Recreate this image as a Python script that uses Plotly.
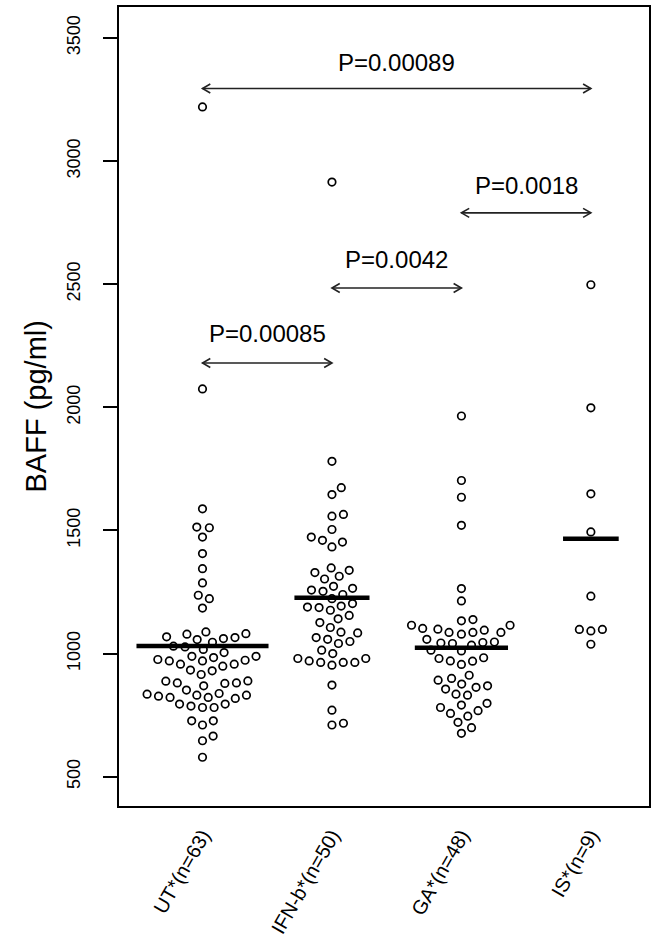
import numpy as np
import plotly.graph_objects as go

# ---------------- data ----------------
categories = ["UT*(n=63)", "IFN-b*(n=50)", "GA*(n=48)", "IS*(n=9)"]

ut_values = [3220, 2075, 1588, 1514, 1511, 1473, 1406, 1345, 1287, 1237, 1223, 1185,
             1088, 1068, 1046, 1079, 1057, 1065, 1061, 1081, 1030, 1004, 1017, 1027,
             989, 984, 970, 957, 949, 973, 933, 957, 970, 976, 989, 930,
             888, 881, 881, 869, 879, 889, 915,
             838, 822, 795, 835, 787, 827, 781, 822, 781, 831, 795, 818, 831, 852,
             727, 710, 727, 646, 665, 579]

ifn_values = [2915, 1781, 1646, 1674, 1558, 1565, 1504, 1460, 1433, 1453, 1473,
              1338, 1314, 1348, 1303, 1329, 1265, 1240, 1273, 1253, 1258,
              1223, 1203, 1187, 1176, 1193, 1189,
              1141, 1155, 1126, 1106, 1087, 1084, 1065, 1049, 1058, 1041, 1014, 1000,
              980, 964, 964, 953, 964, 970, 980,
              872, 770, 710, 717]

ga_values = [1965, 1703, 1635, 1521, 1264, 1214,
             1138, 1133, 1115,
             1102, 1095, 1086, 1086, 1079, 1086, 1099, 1115,
             1058, 1047, 1041, 1034, 1043, 1045,
             1011, 1014,
             980, 969, 956, 970, 983,
             912, 899, 892,
             876, 869, 863, 856,
             835, 831,
             791, 798, 781, 768, 757, 746,
             721, 699, 676]

is_values = [2498, 1998, 1649, 1494, 1233, 1098, 1092, 1098, 1038]

y_tick_values = [500, 1000, 1500, 2000, 2500, 3000, 3500]

cmp_from = [1, 2, 3, 1]
cmp_to = [2, 3, 4, 4]
cmp_arrow_y = [2180, 2485, 2790, 3295]
cmp_label_y = [2300, 2600, 2900, 3400]
cmp_labels = ["P=0.00085", "P=0.0042", "P=0.0018", "P=0.00089"]

groups = [ut_values, ifn_values, ga_values, is_values]

# ---------------- layout constants ----------------
W, H = 660, 941
ML, MR, MT, MB = 119, 11, 7, 135
XR = [0.355, 4.449]
YR = [381, 3626]
px_per_x = (W - ML - MR) / (XR[1] - XR[0])
px_per_y = (H - MT - MB) / (YR[1] - YR[0])
SPACING_PX = 11.6
mean_bar_half = [0.51, 0.29, 0.36, 0.215]
FONT = "Arial, Liberation Sans, sans-serif"


def swarm_offsets(values):
    """R beeswarm 'swarm' method, priority ascending; returns x offsets in px."""
    v = np.asarray(values, float)
    ys = v * px_per_y / SPACING_PX
    order = np.argsort(ys, kind="stable")
    off = np.zeros(len(v))
    placed = []
    for i in order:
        yi = ys[i]
        pre = [j for j in placed if abs(yi - ys[j]) < 1]
        if pre:
            pxs = off[pre]
            pys = ys[pre]
            dd = np.sqrt(1 - (yi - pys) ** 2)
            cands = np.concatenate([[0.0], pxs + dd, pxs - dd])
            bad = np.array([np.any((yi - pys) ** 2 + (c - pxs) ** 2 < 0.999) for c in cands])
            cands = np.where(bad, np.inf, cands)
            off[i] = cands[np.argmin(np.abs(cands))]
        else:
            off[i] = 0.0
        placed.append(i)
    return off * SPACING_PX


fig = go.Figure()
shapes = []
for gi, vals in enumerate(groups):
    pos = gi + 1
    offs = swarm_offsets(vals) / px_per_x
    fig.add_trace(go.Scatter(
        x=pos + offs, y=vals, mode="markers",
        marker=dict(symbol="circle-open", size=7.5, color="black",
                    line=dict(width=1.7, color="black")),
        showlegend=False, hoverinfo="y"))
    m = float(np.mean(vals))
    shapes.append(dict(type="line", xref="x", yref="y",
                       x0=pos - mean_bar_half[gi], x1=pos + mean_bar_half[gi],
                       y0=m, y1=m, line=dict(color="black", width=4.5)))

# arrows
head_len = 9.0
hdx = head_len * np.cos(np.radians(30)) / px_per_x
hdy = head_len * np.sin(np.radians(30)) / px_per_y
annotations = []
for a, b, ya, yl, lab in zip(cmp_from, cmp_to, cmp_arrow_y, cmp_label_y, cmp_labels):
    shapes.append(dict(type="line", xref="x", yref="y", x0=a, x1=b, y0=ya, y1=ya,
                       line=dict(color="#222", width=1.6)))
    shapes.append(dict(type="path", xref="x", yref="y",
                       path=f"M{a + hdx},{ya + hdy} L{a},{ya} L{a + hdx},{ya - hdy}",
                       line=dict(color="#222", width=1.6)))
    shapes.append(dict(type="path", xref="x", yref="y",
                       path=f"M{b - hdx},{ya + hdy} L{b},{ya} L{b - hdx},{ya - hdy}",
                       line=dict(color="#222", width=1.6)))
    annotations.append(dict(x=(a + b) / 2, y=yl, xref="x", yref="y", text=lab,
                            showarrow=False, xanchor="center", yanchor="middle",
                            font=dict(family=FONT, size=24, color="black")))

annotations.append(dict(x=0, y=0.5, xref="paper", yref="paper", xshift=-84,
                        text="BAFF (pg/ml)", textangle=-90, showarrow=False,
                        xanchor="center", yanchor="middle",
                        font=dict(family=FONT, size=29, color="black")))

fig.update_layout(
    width=W, height=H,
    margin=dict(l=ML, r=MR, t=MT, b=MB, autoexpand=False),
    paper_bgcolor="white", plot_bgcolor="white",
    shapes=shapes, annotations=annotations,
    font=dict(family=FONT, color="black"),
    xaxis=dict(range=XR, tickvals=[1, 2, 3, 4], ticktext=categories,
               tickangle=-60, ticks="", showgrid=False, zeroline=False,
               showline=True, mirror=True, linecolor="black", linewidth=1.6,
               ticklabelstandoff=8, automargin=False,
               tickfont=dict(family=FONT, size=20, color="black")),
    yaxis=dict(range=YR, tickvals=y_tick_values,
               ticktext=[str(v) for v in y_tick_values],
               tickangle=-90, ticks="outside", ticklen=14, tickwidth=1.5,
               tickcolor="black", showgrid=False, zeroline=False,
               showline=True, mirror=True, linecolor="black", linewidth=1.6,
               ticklabelstandoff=16, automargin=False,
               tickfont=dict(family=FONT, size=18, color="black")),
)

fig.write_html("out.html",
               config={"displayModeBar": False},
               post_script="document.body.style.margin='0';document.body.style.padding='0';")
